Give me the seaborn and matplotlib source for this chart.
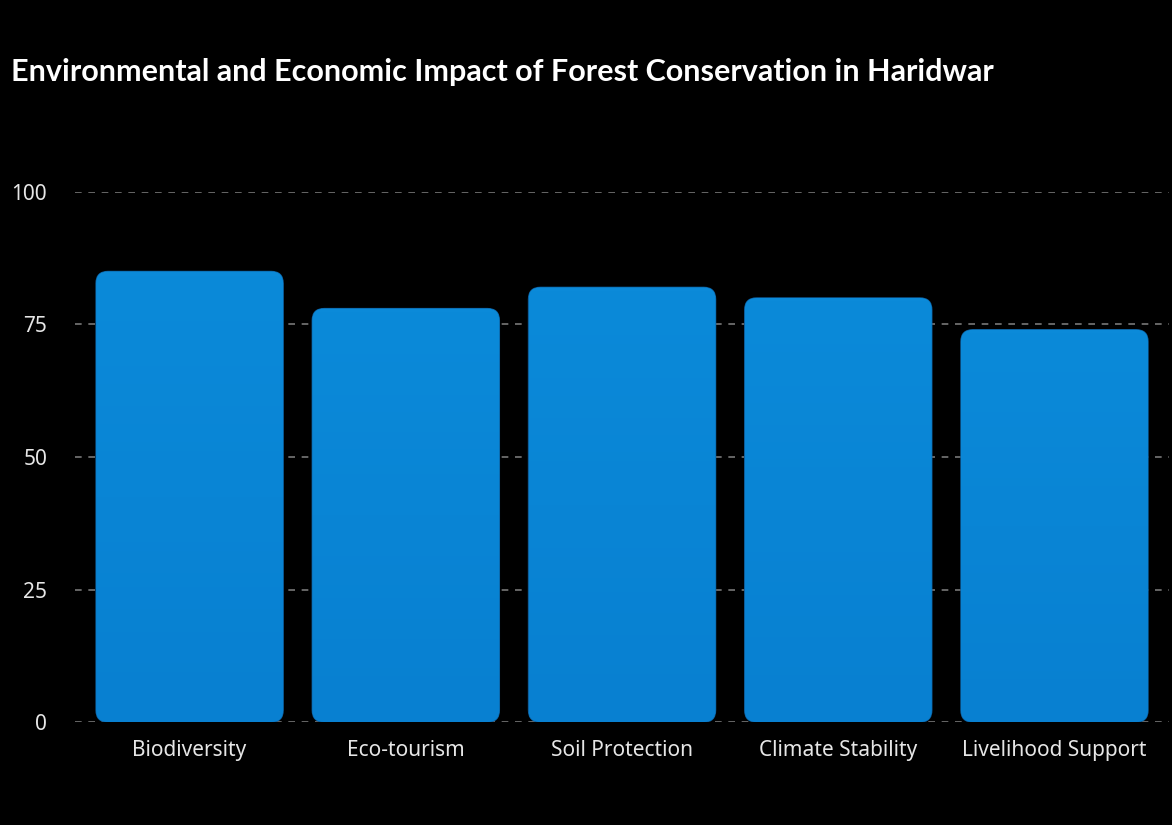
import numpy as np
import pandas as pd
import matplotlib
matplotlib.use("Agg")
import matplotlib.pyplot as plt
import seaborn as sns
from matplotlib.patches import FancyBboxPatch
from matplotlib.colors import LinearSegmentedColormap

categories = ["Biodiversity", "Eco-tourism", "Soil Protection", "Climate Stability", "Livelihood Support"]
scores = [85, 78, 82, 80, 74]
yticks = [0, 25, 50, 75, 100]

df = pd.DataFrame({"category": categories, "score": scores})

sns.set_theme(style="dark")
plt.rcParams["font.family"] = ["Noto Sans", "DejaVu Sans"]

fig = plt.figure(figsize=(11.72, 8.25), dpi=100, facecolor="black")
ax = fig.add_axes([0.064, 0.1248, 0.9335, 0.6425])
ax.set_facecolor("black")

sns.barplot(data=df, x="category", y="score", color="#0a86d6", width=0.865, ax=ax)

ax.set_yticks(yticks)
ax.yaxis.grid(True, linestyle=(0, (4, 4)), color="#777777", linewidth=1.2)
ax.xaxis.grid(False)
ax.set_axisbelow(True)
for s in ax.spines.values():
    s.set_visible(False)

# swap the plain bars for rounded ones with a soft vertical gradient
grad = LinearSegmentedColormap.from_list("bar", ["#0880d1", "#0b8ad9"])
aspect = 41.0
for p in list(ax.patches):
    x, y = p.get_x(), p.get_y()
    w, h = p.get_width(), p.get_height()
    p.remove()
    box = FancyBboxPatch((x, y), w, h,
                         boxstyle="round,pad=0,rounding_size=0.055",
                         mutation_aspect=aspect,
                         facecolor="#0a86d6", edgecolor="#0d5f9e",
                         linewidth=1.0, zorder=2)
    ax.add_patch(box)
    img = ax.imshow(np.linspace(0, 1, 100).reshape(-1, 1), cmap=grad,
                    extent=(x, x + w, y, y + h), origin="lower",
                    aspect="auto", zorder=2.5)
    img.set_clip_path(box)

ax.set_ylim(0, 100)
ax.set_xlim(-0.53, len(categories) - 0.47)

ax.set_xlabel("")
ax.set_ylabel("")
ax.tick_params(axis="x", colors="#e6e6e6", labelsize=15, length=0, pad=13)
ax.tick_params(axis="y", colors="#e6e6e6", labelsize=15, length=0, pad=20)

fig.text(0.009, 0.913, "Environmental and Economic Impact of Forest Conservation in Haridwar",
         color="white", fontsize=22, fontweight="bold", ha="left", va="center",
         family=["Lato", "DejaVu Sans"])

fig.savefig("out.png", dpi=100, facecolor="black")
